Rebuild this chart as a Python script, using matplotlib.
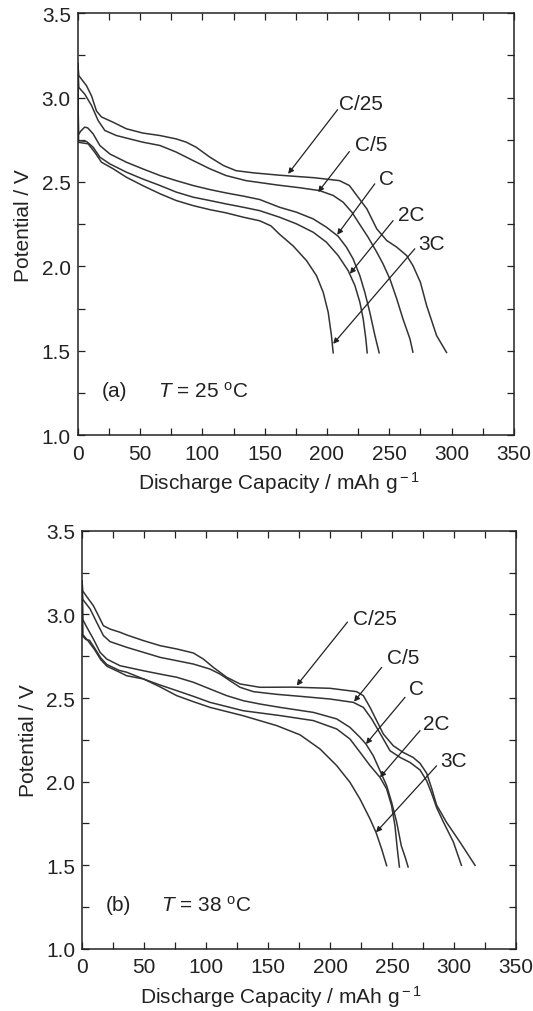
import matplotlib
matplotlib.use("Agg")
import matplotlib.pyplot as plt
from matplotlib.ticker import MultipleLocator

plt.rcParams['font.family'] = ['Liberation Sans', 'DejaVu Sans']
plt.rcParams['mathtext.fontset'] = 'custom'
plt.rcParams['mathtext.rm'] = 'Liberation Sans'
plt.rcParams['mathtext.it'] = 'Liberation Sans:italic'

rates = ['C/25', 'C/5', 'C', '2C', '3C']

# panel (a), T = 25 C
cap_a = {
    'C/25': [0, 0.8, 7, 11, 15, 19, 28, 39, 52, 66, 79, 87, 95, 106, 117, 127, 141, 162, 190, 210, 218, 226, 232, 240, 248, 256, 264, 269, 275, 280, 288, 296],
    'C/5': [0, 0.8, 5.6, 11, 16.3, 21.7, 31, 52, 66, 79, 92.5, 106, 119, 135, 160, 178, 194, 205, 213, 220, 226, 233, 240, 245, 250.5, 256, 261, 266.6, 269],
    'C': [0, 0.5, 2.2, 5.5, 8, 12.3, 17.7, 25.7, 39, 52, 66, 79, 92.5, 106, 119, 133, 146, 162, 175.5, 189, 199.6, 209, 215.7, 221, 226.4, 230.4, 234.4, 238.5, 241.9],
    '2C': [0, 0.5, 7, 12.3, 17.7, 25.7, 39, 52, 66, 79, 92.5, 106, 119, 133, 146, 162, 175.5, 189, 199.6, 209, 217, 222.4, 226.4, 229.1, 231.2, 232.3],
    '3C': [0, 0.5, 8.3, 13.6, 19, 28.4, 39, 52, 66, 79, 92.5, 106, 119, 133, 146, 155, 162, 173, 183.6, 191.6, 197, 201, 203.6, 205],
}
pot_a = {
    'C/25': [3.20, 3.13, 3.07, 3.01, 2.92, 2.885, 2.855, 2.815, 2.79, 2.775, 2.755, 2.736, 2.706, 2.647, 2.597, 2.567, 2.554, 2.54, 2.525, 2.508, 2.479, 2.40, 2.341, 2.222, 2.153, 2.114, 2.064, 2.005, 1.906, 1.768, 1.59, 1.49],
    'C/5': [3.20, 3.06, 3.02, 2.953, 2.864, 2.805, 2.775, 2.736, 2.716, 2.677, 2.627, 2.578, 2.538, 2.508, 2.482, 2.466, 2.449, 2.42, 2.38, 2.321, 2.252, 2.173, 2.084, 2.015, 1.926, 1.808, 1.689, 1.571, 1.492],
    'C': [3.20, 2.78, 2.80, 2.825, 2.82, 2.785, 2.716, 2.666, 2.617, 2.578, 2.538, 2.508, 2.479, 2.455, 2.435, 2.416, 2.396, 2.35, 2.321, 2.281, 2.232, 2.178, 2.113, 2.044, 1.945, 1.846, 1.728, 1.59, 1.488],
    '2C': [3.20, 2.745, 2.74, 2.706, 2.647, 2.607, 2.558, 2.518, 2.479, 2.44, 2.41, 2.39, 2.37, 2.35, 2.33, 2.291, 2.252, 2.202, 2.143, 2.064, 1.975, 1.887, 1.788, 1.689, 1.571, 1.488],
    '3C': [3.20, 2.735, 2.726, 2.676, 2.617, 2.578, 2.528, 2.479, 2.43, 2.39, 2.36, 2.336, 2.317, 2.291, 2.27, 2.24, 2.19, 2.12, 2.034, 1.945, 1.846, 1.728, 1.59, 1.488],
}

# panel (b), T = 38 C
cap_b = {
    'C/25': [0, 0.5, 5.1, 9.1, 13.2, 17.2, 22.6, 30.6, 36, 49.5, 62.9, 76.4, 89.8, 97.8, 105.9, 116.7, 127.4, 143.5, 170, 200, 221.5, 226.9, 232.3, 237.6, 243, 251, 259, 267, 272.6, 278, 282, 286, 294, 305, 317],
    'C/5': [0, 0.5, 6.5, 11.8, 17.2, 22.6, 36, 49.5, 62.9, 76.4, 89.8, 103.2, 111.3, 119.4, 127.4, 138.2, 157, 176, 200, 218.8, 226.9, 233.6, 240.3, 248.4, 256.5, 264.5, 272.6, 278, 282, 286, 291.4, 299.5, 306],
    'C': [0, 0.5, 3.8, 9.1, 14.5, 19.9, 30.6, 49.5, 62.9, 76.4, 89.8, 103.2, 116.7, 130, 143.5, 159.7, 186.6, 205.4, 216, 224.2, 229, 234.9, 240.3, 245.7, 249.7, 253.8, 257.5, 261, 263],
    '2C': [0, 0.5, 3, 6, 10, 15, 20, 30, 36, 49.5, 62, 76.4, 89.8, 103.2, 130, 159.7, 186.6, 205.4, 216.1, 224.2, 232.3, 240.3, 245.7, 249.7, 252.4, 254.3, 256],
    '3C': [0, 0.5, 5, 10, 15, 20, 30, 36, 49.5, 62, 76.4, 89.8, 103.2, 130, 157, 175.8, 192, 205.4, 216.1, 224.2, 232.3, 237.1, 241.7, 245.7],
}
pot_b = {
    'C/25': [3.20, 3.14, 3.092, 3.052, 2.992, 2.932, 2.912, 2.893, 2.877, 2.843, 2.813, 2.793, 2.769, 2.733, 2.683, 2.624, 2.584, 2.564, 2.565, 2.558, 2.538, 2.514, 2.444, 2.365, 2.285, 2.215, 2.175, 2.145, 2.11, 2.05, 1.96, 1.86, 1.757, 1.637, 1.50],
    'C/5': [3.20, 3.09, 3.032, 2.952, 2.873, 2.837, 2.803, 2.773, 2.743, 2.723, 2.703, 2.673, 2.643, 2.603, 2.564, 2.538, 2.522, 2.51, 2.494, 2.474, 2.444, 2.375, 2.29, 2.185, 2.145, 2.115, 2.07, 2.005, 1.93, 1.845, 1.76, 1.64, 1.50],
    'C': [3.20, 2.97, 2.923, 2.853, 2.773, 2.733, 2.693, 2.663, 2.643, 2.624, 2.594, 2.554, 2.514, 2.484, 2.464, 2.444, 2.414, 2.375, 2.325, 2.265, 2.225, 2.155, 2.066, 1.976, 1.877, 1.757, 1.617, 1.54, 1.49],
    '2C': [3.20, 2.87, 2.85, 2.845, 2.80, 2.74, 2.70, 2.665, 2.654, 2.614, 2.58, 2.544, 2.51, 2.474, 2.424, 2.395, 2.365, 2.315, 2.255, 2.176, 2.096, 2.026, 1.956, 1.856, 1.737, 1.597, 1.49],
    '3C': [3.20, 2.88, 2.84, 2.79, 2.73, 2.69, 2.655, 2.633, 2.614, 2.57, 2.514, 2.478, 2.444, 2.394, 2.335, 2.28, 2.195, 2.096, 1.996, 1.896, 1.777, 1.697, 1.597, 1.498],
}

# arrow tip, arrow tail, label centre for each rate
arrows_a = {
    'C/25': [(168.8, 2.548), (208.5, 2.928), (227.6, 2.967)],
    'C/5': [(192.9, 2.44), (218, 2.68), (235.8, 2.72)],
    'C': [(208.2, 2.187), (238.4, 2.489), (247.8, 2.518)],
    '2C': [(218.4, 1.956), (253.1, 2.271), (267.8, 2.31)],
    '3C': [(205, 1.541), (270.5, 2.104), (284, 2.134)],
}
arrows_b = {
    'C/25': [(173.1, 2.574), (214.1, 2.954), (236, 2.974)],
    'C/5': [(219.4, 2.478), (241.7, 2.683), (259.1, 2.743)],
    'C': [(229, 2.225), (260.5, 2.504), (269.9, 2.554)],
    '2C': [(240.3, 2.026), (272.6, 2.305), (286, 2.345)],
    '3C': [(237.1, 1.697), (286, 2.095), (299.5, 2.125)],
}

panels = [
    ('(a)', r'$T$ = 25 $^{\rm o}$C', cap_a, pot_a, arrows_a, [0.146, 0.569, 0.818, 0.417], 0.462),
    ('(b)', r'$T$ = 38 $^{\rm o}$C', cap_b, pot_b, arrows_b, [0.154, 0.0613, 0.814, 0.4133], 0.458),
]

font_size = 15
line_color = '#333333'

fig = plt.figure(figsize=(5.33, 10.12), dpi=100)

for tag, temp, caps, pots, arrows, rect, xlab_x in panels:
    ax = fig.add_axes(rect)
    for r in rates:
        ax.plot(caps[r], pots[r], color=line_color, lw=1.1)
    for r in rates:
        tip, tail, lab = arrows[r]
        ax.annotate('', xy=tip, xytext=tail,
                    arrowprops=dict(arrowstyle='-|>', color='#222222', lw=0.9,
                                    mutation_scale=8, shrinkA=0, shrinkB=0))
        ax.text(lab[0], lab[1], r, fontsize=font_size, ha='center', va='center', color='#222222')

    ax.text(29.5, 1.265, tag, fontsize=font_size, ha='center', va='center', color='#222222')
    ax.text(64, 1.265, temp, fontsize=font_size, ha='left', va='center', color='#222222')

    ax.set_xlim(0, 350)
    ax.set_ylim(1.0, 3.5)
    ax.xaxis.set_major_locator(MultipleLocator(50))
    ax.xaxis.set_minor_locator(MultipleLocator(25))
    ax.yaxis.set_major_locator(MultipleLocator(0.5))
    ax.yaxis.set_minor_locator(MultipleLocator(0.25))
    ax.set_yticklabels([f'{v:.1f}' for v in ax.get_yticks()])
    ax.tick_params(which='both', direction='in', top=True, right=True, length=5, width=0.9,
                   colors='#222222', labelsize=font_size)
    ax.tick_params(axis='x', pad=6)
    ax.tick_params(axis='y', pad=5)
    for s in ax.spines.values():
        s.set_linewidth(1.1)
        s.set_color('#222222')

    ax.set_xlabel(r'Discharge Capacity / mAh g$^{\rm -1}$', fontsize=font_size, labelpad=5, color='#222222')
    ax.xaxis.label.set_x(xlab_x)
    ax.set_ylabel('Potential / V', fontsize=font_size, labelpad=6, color='#222222')

plt.savefig('out.png', dpi=100)
